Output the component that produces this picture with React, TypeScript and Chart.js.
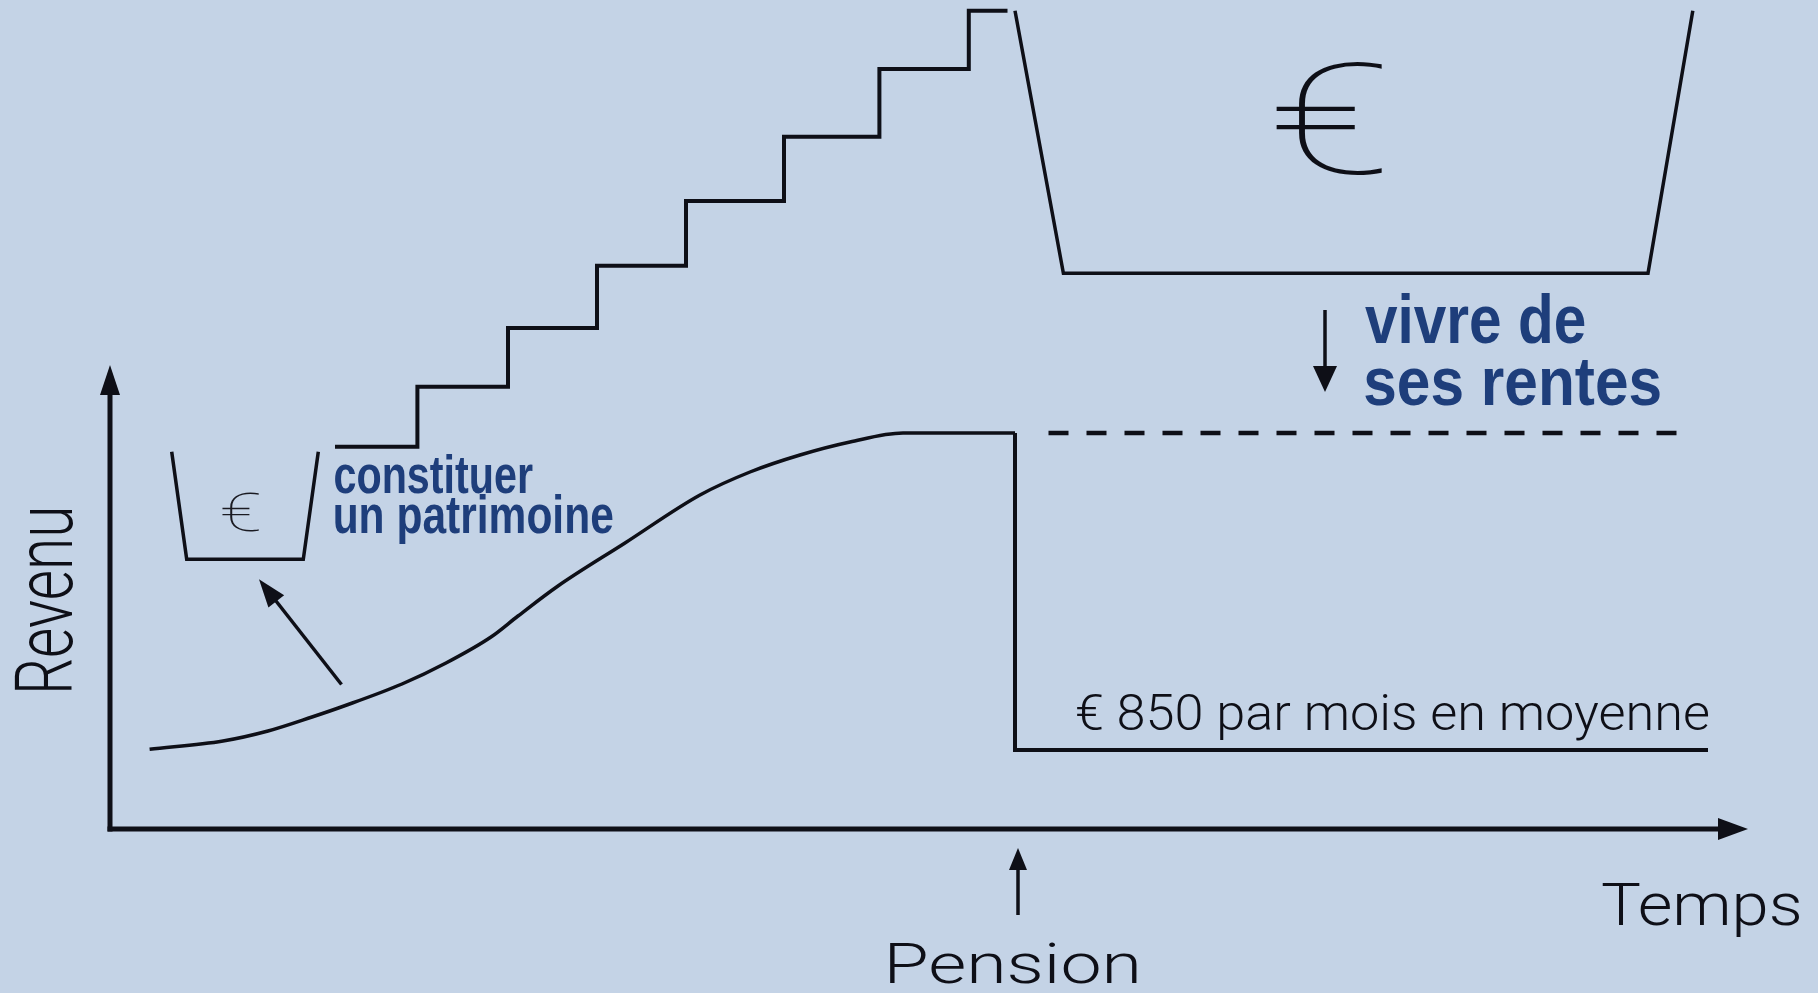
import React, { useEffect, useRef } from 'react';
import { Chart, registerables } from 'chart.js';

Chart.register(...registerables);

const W = 1818;
const H = 993;
const BG = '#c4d3e6';
const INK = '#0e0f17';
const BLUE = '#1e3e7b';

// Axis ranges (time units on x, revenue units on y)
const X_RANGE = [-11, 170.8];
const Y_RANGE = [-16.4, 82.9];
const X_AXIS_END = 163.8;
const Y_AXIS_END = 46.4;

// Revenue during working life (smooth rise, then plateau)
const workIncome = [
  { x: 3.96, y: 7.97 },
  { x: 11.3, y: 8.8 },
  { x: 15.8, y: 9.8 },
  { x: 20.2, y: 11.2 },
  { x: 23.4, y: 12.3 },
  { x: 29.2, y: 14.5 },
  { x: 33.6, y: 16.6 },
  { x: 38.1, y: 19.2 },
  { x: 40.8, y: 21.3 },
  { x: 44.8, y: 24.3 },
  { x: 51.5, y: 28.6 },
  { x: 59.0, y: 33.4 },
  { x: 64.0, y: 35.7 },
  { x: 69.0, y: 37.4 },
  { x: 74.0, y: 38.7 },
  { x: 79.3, y: 39.6 },
  { x: 90.5, y: 39.6 },
];

// Drop at retirement, then pension level
const pensionIncome = [
  { x: 90.5, y: 39.6 },
  { x: 90.5, y: 7.9 },
  { x: 159.8, y: 7.9 },
];

// Wealth built step by step (stairs)
const wealthSteps = [
  { x: 22.5, y: 38.23 },
  { x: 30.74, y: 44.23 },
  { x: 39.8, y: 50.1 },
  { x: 48.7, y: 56.33 },
  { x: 57.6, y: 62.8 },
  { x: 67.4, y: 69.23 },
  { x: 76.94, y: 76.0 },
  { x: 85.88, y: 81.83 },
  { x: 89.75, y: 81.83 },
];

// Living from rents: same level as last income
const rentLevel = [
  { x: 93.85, y: 39.6 },
  { x: 158.0, y: 39.6 },
];

const bigBucket = [
  { x: 90.5, y: 81.83 },
  { x: 95.34, y: 55.57 },
  { x: 153.8, y: 55.57 },
  { x: 158.28, y: 81.83 },
];

const smallBucket = [
  { x: 6.17, y: 37.73 },
  { x: 7.67, y: 26.97 },
  { x: 19.33, y: 26.97 },
  { x: 20.83, y: 37.73 },
];

const LABELS = {
  yTitle: 'Revenu',
  xTitle: 'Temps',
  pension: 'Pension',
  build1: 'constituer',
  build2: 'un patrimoine',
  live1: 'vivre de',
  live2: 'ses rentes',
  avg: '€ 850 par mois en moyenne',
  euro: '€',
};

const LIGHT = (px: number) => `300 ${px}px Roboto, "Liberation Sans", Arial, sans-serif`;
const THIN = (px: number) => `100 ${px}px Roboto, "Liberation Sans", Arial, sans-serif`;
const COND_BOLD = (px: number) => `bold ${px}px "Liberation Sans Narrow", "Liberation Sans", Arial, sans-serif`;

function fitText(ctx: CanvasRenderingContext2D, text: string, font: string, x0: number, x1: number, base: number, color: string) {
  ctx.save();
  ctx.font = font;
  ctx.fillStyle = color;
  ctx.textAlign = 'left';
  ctx.textBaseline = 'alphabetic';
  const m = ctx.measureText(text);
  const inkW = m.actualBoundingBoxLeft + m.actualBoundingBoxRight;
  const sx = (x1 - x0) / inkW;
  ctx.translate(x0, base);
  ctx.scale(sx, 1);
  ctx.fillText(text, m.actualBoundingBoxLeft, 0);
  ctx.restore();
}

// glyph fitted to the box height, widened at most by maxStretch, centred in the box
function fitGlyph(ctx: CanvasRenderingContext2D, text: string, font: string, x0: number, x1: number, top: number, bottom: number, color: string, maxStretch: number) {
  ctx.save();
  ctx.font = font;
  ctx.textAlign = 'left';
  ctx.textBaseline = 'alphabetic';
  const m = ctx.measureText(text);
  const inkW = m.actualBoundingBoxLeft + m.actualBoundingBoxRight;
  const inkH = m.actualBoundingBoxAscent + m.actualBoundingBoxDescent;
  const sy = (bottom - top) / inkH;
  const sx = Math.min((x1 - x0) / inkW, sy * maxStretch);
  const w = inkW * sx;
  ctx.translate((x0 + x1) / 2 - w / 2, top);
  ctx.scale(sx, sy);
  ctx.fillStyle = color;
  ctx.fillText(text, m.actualBoundingBoxLeft, m.actualBoundingBoxAscent);
  ctx.restore();
}

function arrow(ctx: CanvasRenderingContext2D, x0: number, y0: number, x1: number, y1: number, headLen: number, headW: number, lw: number) {
  const dx = x1 - x0;
  const dy = y1 - y0;
  const len = Math.hypot(dx, dy);
  const ux = dx / len;
  const uy = dy / len;
  const bx = x1 - ux * headLen;
  const by = y1 - uy * headLen;
  ctx.save();
  ctx.strokeStyle = INK;
  ctx.fillStyle = INK;
  ctx.lineWidth = lw;
  ctx.lineCap = 'butt';
  ctx.beginPath();
  ctx.moveTo(x0, y0);
  ctx.lineTo(bx + ux * 2, by + uy * 2);
  ctx.stroke();
  ctx.beginPath();
  ctx.moveTo(x1, y1);
  ctx.lineTo(bx - uy * headW / 2, by + ux * headW / 2);
  ctx.lineTo(bx + uy * headW / 2, by - ux * headW / 2);
  ctx.closePath();
  ctx.fill();
  ctx.restore();
}

const diagramPlugin = {
  id: 'diagram',
  beforeDraw(chart: any) {
    const { ctx } = chart;
    ctx.save();
    ctx.fillStyle = BG;
    ctx.fillRect(0, 0, chart.width, chart.height);
    ctx.restore();
  },
  afterDatasetsDraw(chart: any) {
    const { ctx } = chart;
    const xs = chart.scales.x;
    const ys = chart.scales.y;
    const px = (v: number) => xs.getPixelForValue(v);
    const py = (v: number) => ys.getPixelForValue(v);

    // axes
    arrow(ctx, px(0), py(0) + 2.5, px(0), py(Y_AXIS_END), 30, 20, 5);
    arrow(ctx, px(0) - 2.5, py(0), px(X_AXIS_END), py(0), 30, 22, 5);

    // small arrow from curve to small bucket
    arrow(ctx, px(23.15), py(14.45), px(14.9), py(24.97), 28, 20, 3.5);
    // down arrow "vivre de ses rentes"
    arrow(ctx, px(121.5), py(51.9), px(121.5), py(43.7), 26, 24, 3.5);
    // pension arrow
    arrow(ctx, px(90.8), py(-8.6), px(90.8), py(-1.9), 22, 18, 3.5);

    // euros in the buckets
    fitGlyph(ctx, LABELS.euro, THIN(160), px(115.0), px(128.8), py(76.7), py(65.4), INK, 1.45);
    fitGlyph(ctx, LABELS.euro, THIN(56), px(10.5), px(15.6), py(33.73), py(29.73), '#1a1a22', 1.45);

    // blue labels
    fitText(ctx, LABELS.build1, COND_BOLD(54), px(22.5), px(42.3), py(33.6), BLUE);
    fitText(ctx, LABELS.build2, COND_BOLD(54), px(22.5), px(50.3), py(29.6), BLUE);
    fitText(ctx, LABELS.live1, COND_BOLD(69), px(125.5), px(147.5), py(48.6), BLUE);
    fitText(ctx, LABELS.live2, COND_BOLD(69), px(125.5), px(155.0), py(42.4), BLUE);

    // black labels
    fitText(ctx, LABELS.avg, LIGHT(50), px(96.7), px(159.8), py(9.9), INK);
    fitText(ctx, LABELS.xTitle, LIGHT(60), px(149.2), px(169.0), py(-9.6), INK);
    fitText(ctx, LABELS.pension, LIGHT(56), px(78.0), px(102.7), py(-15.4), INK);

    // rotated y title
    ctx.save();
    ctx.translate(px(-3.8), py(13.9));
    ctx.rotate(-Math.PI / 2);
    const L = py(13.9) - py(31.9);
    fitText(ctx, LABELS.yTitle, LIGHT(80), 0, L, 0, INK);
    ctx.restore();
  },
};

const line = (data: any[], extra: any = {}) => ({
  data,
  showLine: true,
  pointRadius: 0,
  pointHoverRadius: 0,
  fill: false,
  borderColor: INK,
  borderWidth: 3.5,
  borderCapStyle: 'butt',
  borderJoinStyle: 'miter',
  tension: 0,
  ...extra,
});

export default function App() {
  const ref = useRef<HTMLCanvasElement>(null);
  useEffect(() => {
    const chart = new Chart(ref.current as HTMLCanvasElement, {
      type: 'scatter',
      data: {
        datasets: [
          line(workIncome, { cubicInterpolationMode: 'monotone', borderWidth: 3.5, borderJoinStyle: 'round' }),
          line(pensionIncome, { borderWidth: 4 }),
          line(wealthSteps, { stepped: 'before', borderWidth: 4 }),
          line(rentLevel, { borderDash: [20, 18], borderWidth: 4.5 }),
          line(bigBucket, { borderWidth: 3.5 }),
          line(smallBucket, { borderWidth: 3.5 }),
        ] as any,
      },
      options: {
        responsive: false,
        animation: false,
        events: [],
        layout: { padding: 0 },
        plugins: { legend: { display: false }, tooltip: { enabled: false }, title: { display: false } },
        scales: {
          x: { type: 'linear', min: X_RANGE[0], max: X_RANGE[1], display: false },
          y: { type: 'linear', min: Y_RANGE[0], max: Y_RANGE[1], display: false },
        },
      } as any,
      plugins: [diagramPlugin],
    });
    return () => chart.destroy();
  }, []);
  return (
    <div style={{ position: 'absolute', left: 0, top: 0, width: W, height: H, background: BG, overflow: 'hidden' }}>
      <canvas ref={ref} width={W} height={H} style={{ display: 'block', width: W, height: H }} />
    </div>
  );
}
